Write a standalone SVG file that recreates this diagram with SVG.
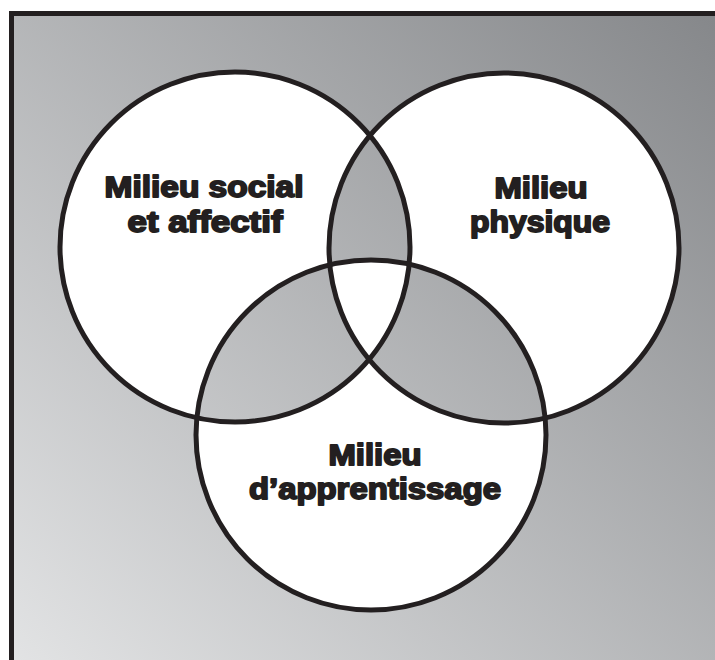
<svg xmlns="http://www.w3.org/2000/svg" width="715" height="660" viewBox="0 0 715 660">
<defs>
<linearGradient id="bg" x1="0" y1="1" x2="1" y2="0">
<stop offset="0" stop-color="#e6e7e8"/>
<stop offset="1" stop-color="#838588"/>
</linearGradient>
<style>
.ring{fill:none;stroke:#231f20;stroke-width:5}
.lbl{font-family:"Liberation Sans",Arial,sans-serif;font-weight:700;font-size:29px;fill:#231f20;stroke:#231f20;stroke-width:1.8;stroke-linejoin:round;text-anchor:middle}
</style>
</defs>
<g id="background">
<rect x="0" y="0" width="715" height="660" fill="#ffffff"/>
<rect x="11.5" y="13.5" width="740" height="700" fill="url(#bg)"/>
<rect x="11.5" y="13.5" width="740" height="700" fill="none" stroke="#231f20" stroke-width="5"/>
<path fill="#ffffff" fill-rule="evenodd" d="M60,247 a175,175 0 1,0 350,0 a175,175 0 1,0 -350,0 Z M329,248 a175,175 0 1,0 350,0 a175,175 0 1,0 -350,0 Z M196,435 a175,175 0 1,0 350,0 a175,175 0 1,0 -350,0 Z"/>
</g>
<g id="milieu-social">
<circle class="ring" cx="235" cy="247" r="175"/>
<text class="lbl" x="204" y="197" textLength="199" lengthAdjust="spacingAndGlyphs">Milieu social</text>
<text class="lbl" x="205" y="232" textLength="155" lengthAdjust="spacingAndGlyphs">et affectif</text>
</g>
<g id="milieu-physique">
<circle class="ring" cx="504" cy="248" r="175"/>
<text class="lbl" x="541" y="198" textLength="93" lengthAdjust="spacingAndGlyphs">Milieu</text>
<text class="lbl" x="540" y="232" textLength="140" lengthAdjust="spacingAndGlyphs">physique</text>
</g>
<g id="milieu-apprentissage">
<circle class="ring" cx="371" cy="435" r="175"/>
<text class="lbl" x="375" y="465" textLength="93" lengthAdjust="spacingAndGlyphs">Milieu</text>
<text class="lbl" x="375" y="499" textLength="252" lengthAdjust="spacingAndGlyphs">d’apprentissage</text>
</g>
<g id="connectors"/>
</svg>
